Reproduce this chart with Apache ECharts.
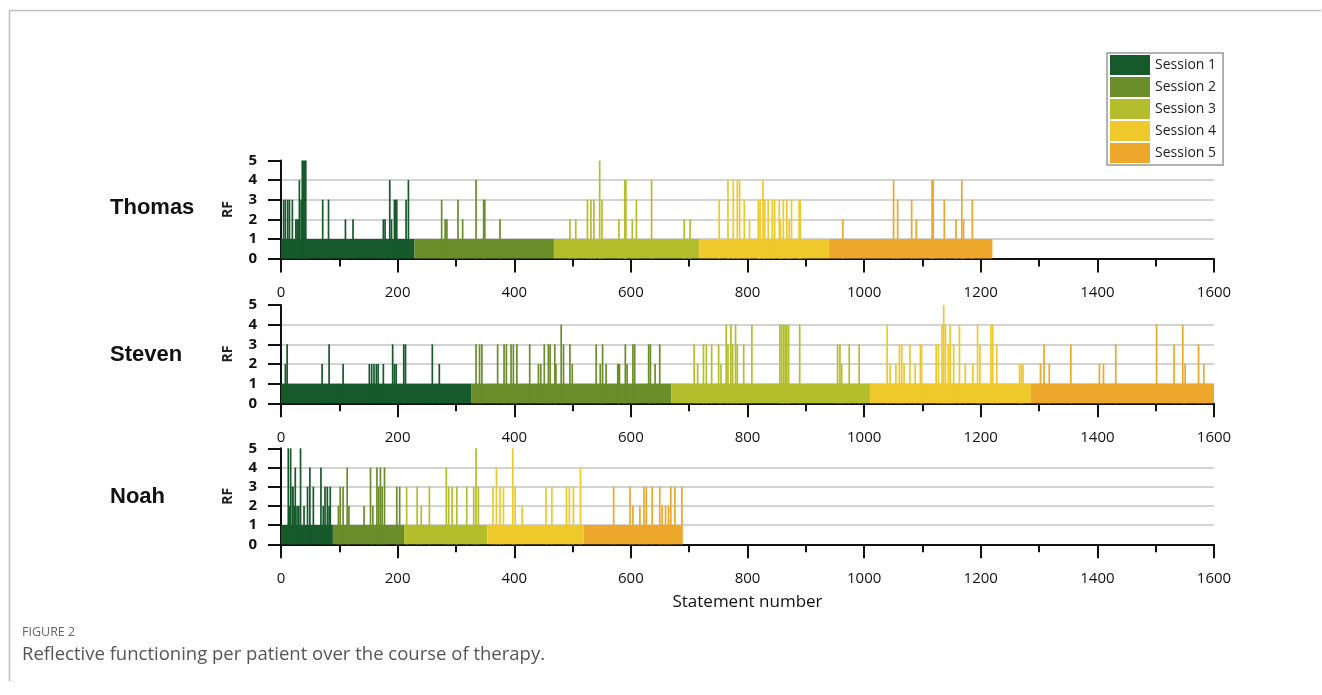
<!DOCTYPE html>
<html><head><meta charset="utf-8">
<script src="https://cdn.jsdelivr.net/npm/echarts@6/dist/echarts.min.js"></script>
<style>html,body{margin:0;padding:0;background:#fff}#c{width:1322px;height:695px}</style>
</head><body><div id="c"></div>
<script>
// ---- data ----
const patients = ['Thomas', 'Steven', 'Noah'];
const sessions = ['Session 1', 'Session 2', 'Session 3', 'Session 4', 'Session 5'];
const xTickStep = 200; // statement number ticks 0..1600
const rfTicks = [0, 1, 2, 3, 4, 5];
const baseRF = 1; // RF of statements without a spike

// last statement number of each session
const thomasSessionEnds = [229, 468, 717, 940, 1220];
const stevenSessionEnds = [326, 669, 1010, 1286, 1600];
const noahSessionEnds = [89, 211, 354, 519, 688];

// [statement, RF] for statements with RF above the base level
const thomasSpikes = [
  [4,3],[7,3],[11,3],[14,3],[19,3],[25,2],[27,2],[29,2],[31,4],[34,3],[36,5],[38,5],[40,5],[42,5],[71,3],[81,3],[110,2],[123,2],[175,2],[178,2],[186,4],[189,2],[194,3],[196,3],[198,3],[214,3],[218,4],
  [275,3],[281,2],[284,2],[303,3],[311,2],[334,4],[347,3],[349,3],[375,2],
  [495,2],[505,2],[525,3],[531,3],[536,3],[546,5],[550,3],[579,2],[589,4],[591,4],[602,2],[609,3],[635,4],[691,2],[701,2],
  [751,3],[766,4],[775,4],[782,4],[786,4],[794,3],[803,2],[818,3],[821,3],[826,4],[829,3],[835,3],[842,3],[846,3],[854,3],[856,2],[861,3],[867,3],[871,2],[875,3],[888,3],[890,3],
  [963,2],[1050,4],[1057,3],[1081,3],[1089,2],[1116,4],[1118,4],[1137,3],[1157,2],[1167,4],[1170,2],[1185,3]
];
const stevenSpikes = [
  [7,2],[10,3],[70,2],[82,3],[106,2],[151,2],[155,2],[159,2],[163,2],[166,2],[175,2],[191,3],[194,2],[197,2],[210,3],[213,3],[259,3],[271,2],
  [334,3],[340,3],[344,3],[371,3],[382,3],[386,3],[394,3],[398,3],[404,3],[426,3],[441,2],[445,2],[451,3],[458,3],[461,3],[469,3],[471,2],[480,4],[484,3],[495,3],[499,2],[540,3],[547,2],[551,3],[557,2],[577,2],[578,2],[580,2],[590,3],[593,2],[603,3],[606,3],[630,3],[633,3],[641,2],[649,3],
  [708,3],[714,2],[724,3],[729,3],[738,3],[750,3],[754,2],[763,4],[766,3],[771,4],[774,3],[779,4],[782,3],[793,3],[807,4],[855,4],[858,4],[861,4],[864,4],[867,4],[870,4],[889,4],[954,3],[958,3],[961,2],[974,3],[991,3],
  [1039,4],[1044,2],[1054,2],[1060,3],[1064,3],[1068,2],[1078,3],[1087,2],[1096,3],[1098,3],[1123,3],[1127,3],[1133,4],[1136,5],[1139,4],[1144,3],[1147,4],[1153,3],[1163,4],[1173,2],[1186,2],[1194,4],[1198,3],[1217,4],[1220,4],[1227,3],[1266,2],[1269,2],[1272,2],
  [1302,2],[1308,3],[1317,2],[1354,3],[1403,2],[1410,2],[1431,3],[1501,4],[1531,3],[1546,4],[1550,2],[1573,3],[1582,2]
];
const noahSpikes = [
  [12,5],[14,2],[16,5],[19,3],[20,3],[22,2],[24,4],[27,2],[30,2],[33,5],[39,2],[45,3],[49,4],[55,3],[68,4],[72,2],[75,3],[79,3],[82,2],[84,3],
  [98,2],[101,3],[106,3],[113,4],[116,2],[142,2],[153,4],[157,2],[164,4],[167,3],[170,4],[173,3],[177,4],[198,3],[203,3],
  [215,3],[233,3],[240,2],[254,3],[283,4],[287,3],[293,3],[301,3],[318,3],[330,3],[334,5],[338,3],
  [363,3],[369,4],[375,3],[381,3],[397,5],[401,3],[413,2],[454,3],[464,3],[489,3],[494,3],[501,3],[513,4],
  [570,3],[598,3],[603,2],[615,2],[622,3],[626,3],[636,3],[649,3],[653,2],[659,2],[664,2],[668,3],[675,3],[687,3]
];

const sessionEnds = [thomasSessionEnds, stevenSessionEnds, noahSessionEnds];
const spikes = [thomasSpikes, stevenSpikes, noahSpikes];

// ---- styles ----
const colors = ['#165a2b', '#6b8d2a', '#b4be2c', '#efc82c', '#eda72a'];
const grids = [
  { left: 281, width: 933, top: 160.5, height: 98 },
  { left: 281, width: 933, top: 305, height: 98.3 },
  { left: 281, width: 933, top: 448.3, height: 96 }
];
const nameTops = [197, 344, 486];
const axisColor = '#111';
const tickFont = 'Open Sans';

function renderItem(params, api) {
  const x0 = api.value(0), x1 = api.value(1), v = api.value(2);
  const p0 = api.coord([x0, v]);
  const p1 = api.coord([x1, 0]);
  let x = p0[0], w = p1[0] - p0[0];
  const minW = 1.7;
  if (w < minW) { x -= (minW - w) / 2; w = minW; }
  return {
    type: 'rect',
    shape: { x: x, y: p0[1], width: w, height: p1[1] - p0[1] },
    style: { fill: api.visual('color') }
  };
}

const xAxes = [], yAxes = [], series = [];
patients.forEach((p, i) => {
  const last = i === patients.length - 1;
  xAxes.push({
    type: 'value', gridIndex: i, min: 0, max: 1600, interval: xTickStep,
    axisLine: { show: true, onZero: false, lineStyle: { color: axisColor, width: 2 } },
    axisTick: { show: true, length: 14, lineStyle: { color: axisColor, width: 2 } },
    minorTick: { show: true, splitNumber: 2, length: 8, lineStyle: { color: axisColor, width: 2 } },
    axisLabel: { margin: 27, fontSize: 15, color: '#111', fontFamily: tickFont, formatter: v => String(v) },
    splitLine: { show: false },
    name: last ? 'Statement number' : '',
    nameLocation: 'middle', nameGap: 49,
    nameTextStyle: { fontSize: 17, color: '#111', fontFamily: tickFont }
  });
  yAxes.push({
    type: 'value', gridIndex: i, min: rfTicks[0], max: rfTicks[rfTicks.length - 1], interval: 1,
    name: 'RF', nameLocation: 'middle', nameGap: 46, nameRotate: 90,
    nameTextStyle: { fontSize: 14, fontWeight: 'bold', color: '#222', fontFamily: tickFont },
    axisLine: { show: true, lineStyle: { color: axisColor, width: 2 } },
    axisTick: { show: true, length: 13, lineStyle: { color: axisColor, width: 2 } },
    axisLabel: { margin: 24, fontSize: 15, color: '#111', fontWeight: 'bold', fontFamily: tickFont },
    splitLine: { show: true, showMinLine: false, showMaxLine: false, lineStyle: { color: '#c4c4c4', width: 1.5 } }
  });
  const ends = sessionEnds[i];
  sessions.forEach((s, k) => {
    const start = k === 0 ? 0 : ends[k - 1];
    const end = ends[k];
    const data = [[start, end, baseRF]];
    spikes[i].forEach(([st, rf]) => {
      if (st >= start && st < end) data.push([st, st + 1, rf]);
    });
    series.push({
      type: 'custom', name: s, xAxisIndex: i, yAxisIndex: i,
      itemStyle: { color: colors[k] },
      renderItem: renderItem,
      encode: { x: [0, 1], y: 2 },
      data: data,
      silent: true
    });
  });
});

const graphics = [
  { type: 'line', shape: { x1: 9, y1: 10.5, x2: 1321, y2: 10.5 }, style: { stroke: '#bdbdbd', lineWidth: 1.5 } },
  { type: 'line', shape: { x1: 9.5, y1: 10, x2: 9.5, y2: 681 }, style: { stroke: '#bdbdbd', lineWidth: 1.5 } },
  { type: 'text', left: 22, top: 626, style: { text: 'FIGURE 2', font: '12.5px "Open Sans"', fill: '#666' } },
  { type: 'text', left: 22, top: 645, style: { text: 'Reflective functioning per patient over the course of therapy.', font: '18.5px "Open Sans"', fill: '#555' } }
];
patients.forEach((p, i) => {
  graphics.push({ type: 'text', left: 110, top: nameTops[i], style: { text: p, font: 'bold 22px "Liberation Sans"', fill: '#111' } });
});

const chart = echarts.init(document.getElementById('c'));
chart.setOption({
  animation: false,
  backgroundColor: '#fff',
  grid: grids,
  xAxis: xAxes,
  yAxis: yAxes,
  legend: {
    data: sessions, orient: 'vertical', left: 1107, top: 53,
    icon: 'rect', itemWidth: 40, itemHeight: 20, itemGap: 2,
    padding: [2, 7, 2, 3], borderColor: '#999', borderWidth: 1.5,
    selectedMode: false,
    textStyle: { fontSize: 14, color: '#222', fontFamily: tickFont, padding: [0, 0, 0, 0] }
  },
  graphic: graphics,
  series: series
});
</script></body></html>
